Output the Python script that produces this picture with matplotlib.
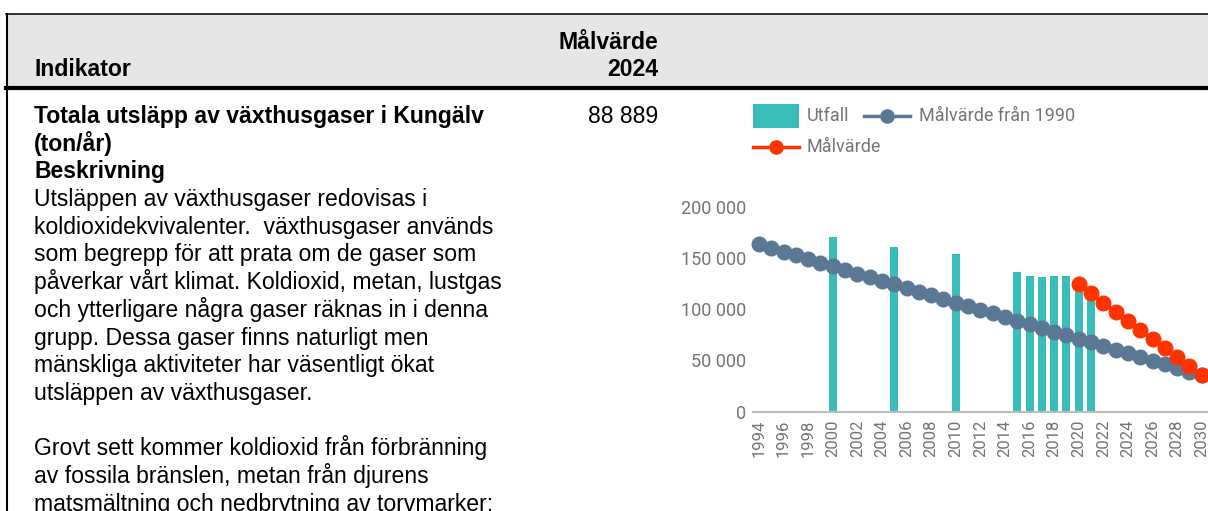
import matplotlib
matplotlib.use("Agg")
import matplotlib.pyplot as plt
from matplotlib.patches import Rectangle
from matplotlib.lines import Line2D
from matplotlib.ticker import FuncFormatter

W, H = 1208, 511

# data
utfall_years = [2000, 2005, 2010, 2015, 2016, 2017, 2018, 2019, 2020, 2021]
utfall_values = [170500, 161000, 154000, 136300, 133000, 132000, 133000, 132400, 126000, 119000]

mal1990_years = list(range(1994, 2031))
mal1990_values = [163600, 160000, 156400, 152900, 149300, 145800, 142200, 138700, 135100,
                  131600, 128000, 124400, 120900, 117300, 113800, 110200, 106700, 103100,
                  99600, 96000, 92400, 88900, 85300, 81800, 78200, 74700, 71100, 67600,
                  64000, 60400, 56900, 53300, 49800, 46200, 42700, 39100, 35600]

mal_years = list(range(2020, 2031))
mal_values = [124400, 115600, 106700, 97800, 88900, 80000, 71100, 62200, 53300, 44400, 35600]

xtick_years = list(range(1994, 2031, 2))
ytick_values = [0, 50000, 100000, 150000, 200000]

header_left = "Indikator"
header_right = ["Målvärde", "2024"]
target_2024 = "88 889"
body_lines = [
    ("Totala utsläpp av växthusgaser i Kungälv", "bold"),
    ("(ton/år)", "bold"),
    ("Beskrivning", "bold"),
    ("Utsläppen av växthusgaser redovisas i", "normal"),
    ("koldioxidekvivalenter.  växthusgaser används", "normal"),
    ("som begrepp för att prata om de gaser som", "normal"),
    ("påverkar vårt klimat. Koldioxid, metan, lustgas", "normal"),
    ("och ytterligare några gaser räknas in i denna", "normal"),
    ("grupp. Dessa gaser finns naturligt men", "normal"),
    ("mänskliga aktiviteter har väsentligt ökat", "normal"),
    ("utsläppen av växthusgaser.", "normal"),
    ("", "normal"),
    ("Grovt sett kommer koldioxid från förbränning", "normal"),
    ("av fossila bränslen, metan från djurens", "normal"),
    ("matsmältning och nedbrytning av torvmarker;", "normal"),
]

TEAL = "#38bdbb"
SLATE = "#5a7893"
RED = "#ff3300"
GREY = "#757575"


def fx(x):
    return x / W


def fy(y):
    return 1 - y / H


def main():
    fig = plt.figure(figsize=(W / 100, H / 100), dpi=100)

    # table frame
    fig.patches.append(Rectangle((fx(6), fy(88)), fx(W), 74 / H, transform=fig.transFigure,
                                 facecolor="#e6e6e6", edgecolor="none", zorder=0))
    fig.add_artist(Line2D([fx(6), 1], [fy(14), fy(14)], color="black", lw=1.1))
    fig.add_artist(Line2D([fx(6), 1], [fy(88.5), fy(88.5)], color="black", lw=3))
    fig.add_artist(Line2D([fx(6.5), fx(6.5)], [fy(14), 0], color="black", lw=1.5))

    tx = 34
    tf = dict(family="Liberation Sans", fontsize=16.6, color="black")
    fig.text(fx(tx), fy(76), header_left, ha="left", va="baseline", weight="bold", **tf)
    fig.text(fx(658), fy(49), header_right[0], ha="right", va="baseline", weight="bold", **tf)
    fig.text(fx(658), fy(76), header_right[1], ha="right", va="baseline", weight="bold", **tf)
    fig.text(fx(658), fy(123), target_2024, ha="right", va="baseline", **tf)

    for i, (line, w) in enumerate(body_lines):
        fig.text(fx(tx), fy(123 + 27.7 * i), line, ha="left", va="baseline", weight=w, **tf)

    # chart
    left, right, bottom, top = 753, 1215, 411.5, 207.3
    ax = fig.add_axes([fx(left), fy(bottom), (right - left) / W, (bottom - top) / H])
    ax.set_facecolor("none")
    ax.bar(utfall_years, utfall_values, width=0.65, color=TEAL, zorder=2)
    ax.plot(mal1990_years, mal1990_values, color=SLATE, lw=2.5, marker="o", ms=10.5,
            zorder=3, clip_on=False)
    ax.plot(mal_years, mal_values, color=RED, lw=2.5, marker="o", ms=10.5, zorder=4,
            clip_on=False)

    ax.set_xlim(1993.52, 1993.52 + (right - left) / 12.3)
    ax.set_ylim(0, 200000)
    for s in ["top", "right", "left"]:
        ax.spines[s].set_visible(False)
    ax.spines["bottom"].set_color("#bdbdbd")
    ax.spines["bottom"].set_linewidth(1.5)
    ax.set_xticks(xtick_years)
    ax.set_xticklabels([str(y) for y in xtick_years], rotation=90, family="Roboto",
                       fontsize=12, color=GREY)
    ax.set_yticks(ytick_values)
    ax.yaxis.set_major_formatter(FuncFormatter(lambda v, p: f"{int(v):,}".replace(",", " ")))
    for lab in ax.get_yticklabels():
        lab.set_family("Roboto")
        lab.set_fontsize(13)
        lab.set_color(GREY)
    ax.tick_params(axis="x", length=0, pad=6)
    ax.tick_params(axis="y", length=0, pad=5)

    # legend
    fig.patches.append(Rectangle((fx(753), fy(128)), 46 / W, 24 / H, transform=fig.transFigure,
                                 facecolor=TEAL, edgecolor="none"))
    lf = dict(family="Roboto", fontsize=13, color=GREY, va="center", ha="left")
    fig.text(fx(807), fy(116), "Utfall", **lf)
    fig.add_artist(Line2D([fx(864), fx(910)], [fy(116), fy(116)], color=SLATE, lw=2.5))
    fig.add_artist(Line2D([fx(887)], [fy(116)], color=SLATE, marker="o", ms=9.5))
    fig.text(fx(919), fy(116), "Målvärde från 1990", **lf)
    fig.add_artist(Line2D([fx(753), fx(799)], [fy(147.5), fy(147.5)], color=RED, lw=2.5))
    fig.add_artist(Line2D([fx(776)], [fy(147.5)], color=RED, marker="o", ms=9.5))
    fig.text(fx(807), fy(147.5), "Målvärde", **lf)

    fig.savefig("out.png", dpi=100)


main()
